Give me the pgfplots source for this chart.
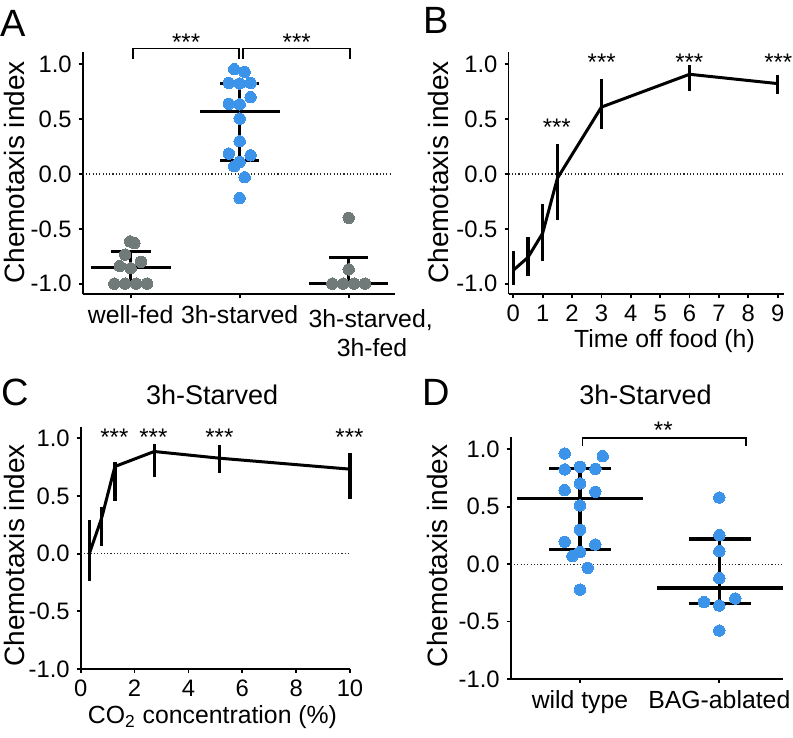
\documentclass[border=0pt]{standalone}
\usepackage{fontspec}
\setmainfont{Liberation Sans}
\usepackage{pgfplots}
\pgfplotsset{compat=1.18}
\definecolor{dotblue}{RGB}{60,148,234}
\definecolor{dotgrey}{RGB}{112,122,120}

\pgfplotsset{
  panel/.style={
    scale only axis,
    axis lines=left,
    axis line style={-, line width=0.9pt},
    tick style={black, line width=0.9pt},
    tick align=outside,
    major tick length=2pt,
    clip=false,
    ytick={-1,-0.5,0,0.5,1},
    /pgf/number format/assume math mode=true,
    yticklabel style={/pgf/number format/fixed, /pgf/number format/fixed zerofill, /pgf/number format/precision=1},
    tick label style={font=\fontsize{11.9}{14}\selectfont},
  },
  sumline/.style={black, line width=1.7pt, line cap=butt, forget plot},
  bracket/.style={black, line width=0.8pt, forget plot},
  zeroline/.style={black!85, line width=0.6pt, dash pattern=on 0.55pt off 1.1pt, forget plot},
  bluedots/.style={only marks, mark=*, mark size=2.85pt, mark options={fill=dotblue, draw=dotblue, line width=0pt}},
  greydots/.style={only marks, mark=*, mark size=2.85pt, mark options={fill=dotgrey, draw=dotgrey, line width=0pt}},
  meanline/.style={black, line width=1.5pt, line join=round,
    error bars/.cd, y dir=both, y explicit, error mark=none,
    error bar style={line width=1.7pt, black}},
}

\pgfplotstableread{
x y ep em
0 -0.878 0.178 0.137
0.5 -0.76 0.186 0.17
1 -0.54 0.264 0.253
1.5 -0.04 0.317 0.376
3 0.61 0.256 0.196
6 0.909 0.088 0.152
9 0.824 0.076 0.097
}\tableB

\pgfplotstableread{
x y ep em
0.32 0.0 0.292 0.234
0.78 0.31 0.09 0.243
1.27 0.755 0.035 0.298
2.73 0.885 0.066 0.222
5.15 0.827 0.113 0.13
10 0.732 0.139 0.26
}\tableC

\begin{document}
\begin{tikzpicture}
\path[use as bounding box] (0,0) rectangle (396.5pt,369pt);

% ---------------- Panel A ----------------
\begin{axis}[panel,
  at={(41.35pt,221.85pt)}, anchor=south west,
  width=156.15pt, height=121.3pt,
  xmin=-0.44, xmax=2.425, ymin=-1.097, ymax=1.115,
  xtick={0,1,2}, xticklabels={well-fed,3h-starved,{}},
  xticklabel style={font=\fontsize{12.4}{14}\selectfont},
]
\addplot[zeroline] coordinates {(-0.44,0) (2.395,0)};
\addplot[greydots] coordinates {(-0.005,-0.615) (0.035,-0.63) (-0.05,-0.735) (-0.10,-0.84) (0.095,-0.80) (0,-0.86) (-0.15,-1) (-0.05,-1) (0.05,-1) (0.15,-1)};
\addplot[bluedots] coordinates {(0.95,0.955) (1.046,0.93) (0.9,0.83) (1,0.825) (1.1,0.83) (1.1,0.70) (0.9,0.64) (1,0.635) (1,0.505) (1,0.298) (0.9,0.186) (1.1,0.17) (0.95,0.07) (1,0.11) (1.046,-0.03) (1,-0.22)};
\addplot[greydots] coordinates {(2,-0.40) (2,-0.87) (1.85,-1) (1.95,-1) (2.05,-1) (2.15,-1)};
% summaries
\addplot[sumline] coordinates {(-0.367,-0.85) (0.367,-0.85)};
\addplot[sumline] coordinates {(-0.183,-0.705) (0.183,-0.705)};
\addplot[sumline] coordinates {(-0.183,-1) (0.183,-1)};
\addplot[sumline] coordinates {(0,-1) (0,-0.705)};
\addplot[sumline] coordinates {(0.633,0.57) (1.367,0.57)};
\addplot[sumline] coordinates {(0.82,0.825) (1.18,0.825)};
\addplot[sumline] coordinates {(0.82,0.125) (1.18,0.125)};
\addplot[sumline] coordinates {(1,0.125) (1,0.825)};
\addplot[sumline] coordinates {(1.638,-1) (2.362,-1)};
\addplot[sumline] coordinates {(1.82,-0.76) (2.18,-0.76)};
\addplot[sumline] coordinates {(2,-1) (2,-0.76)};
% brackets
\addplot[bracket] coordinates {(0.024,1.051) (0.024,1.143) (0.996,1.143) (0.996,1.051)};
\addplot[bracket] coordinates {(1.033,1.051) (1.033,1.143) (2.012,1.143) (2.012,1.051)};
\node[anchor=base, font=\fontsize{12}{14}\selectfont, inner sep=0pt] at (axis cs:0.509,1.123) {***};
\node[anchor=base, font=\fontsize{12}{14}\selectfont, inner sep=0pt] at (axis cs:1.523,1.123) {***};
\end{axis}

% ---------------- Panel B ----------------
\begin{axis}[panel,
  at={(254.25pt,221.85pt)}, anchor=south west,
  width=137.75pt, height=121.3pt,
  xmin=-0.163, xmax=9.214, ymin=-1.097, ymax=1.115,
  xtick={0,1,...,9},
]
\addplot[zeroline] coordinates {(-0.163,0) (9.18,0)};
\addplot[meanline] table[x=x, y=y, y error plus=ep, y error minus=em] {\tableB};
\node[anchor=base, font=\fontsize{12}{14}\selectfont, inner sep=0pt] at (axis cs:1.48,0.348) {***};
\node[anchor=base, font=\fontsize{12}{14}\selectfont, inner sep=0pt] at (axis cs:3.01,0.94) {***};
\node[anchor=base, font=\fontsize{12}{14}\selectfont, inner sep=0pt] at (axis cs:5.99,0.94) {***};
\node[anchor=base, font=\fontsize{12}{14}\selectfont, inner sep=0pt] at (axis cs:9.02,0.94) {***};
\end{axis}

% ---------------- Panel C ----------------
\begin{axis}[panel,
  at={(40.35pt,34.5pt)}, anchor=south west,
  width=134.65pt, height=121.15pt,
  xmin=0, xmax=10, ymin=-1, ymax=1.1,
  xtick={0,2,...,10},
]
\addplot[zeroline] coordinates {(0,0) (10,0)};
\addplot[meanline] table[x=x, y=y, y error plus=ep, y error minus=em] {\tableC};
\node[anchor=base, font=\fontsize{12}{14}\selectfont, inner sep=0pt] at (axis cs:1.25,0.933) {***};
\node[anchor=base, font=\fontsize{12}{14}\selectfont, inner sep=0pt] at (axis cs:2.70,0.933) {***};
\node[anchor=base, font=\fontsize{12}{14}\selectfont, inner sep=0pt] at (axis cs:5.15,0.933) {***};
\node[anchor=base, font=\fontsize{12}{14}\selectfont, inner sep=0pt] at (axis cs:9.98,0.933) {***};
\end{axis}

% ---------------- Panel D ----------------
\begin{axis}[panel,
  at={(255.35pt,29.5pt)}, anchor=south west,
  width=136pt, height=121.15pt,
  xmin=-0.4975, xmax=1.455, ymin=-1, ymax=1.11,
  xtick={0,1}, xticklabels={wild type,BAG-ablated},
  xticklabel style={font=\fontsize{12.4}{14}\selectfont},
]
\addplot[zeroline] coordinates {(-0.4975,0) (1.455,0)};
\addplot[bluedots] coordinates {(-0.11,0.964) (0.163,0.94) (-0.11,0.825) (0,0.848) (0.11,0.83) (-0.11,0.645) (0,0.703) (0.11,0.63) (0,0.511) (0,0.30) (-0.11,0.195) (0.11,0.171) (-0.055,0.07) (0,0.105) (0.055,-0.032) (0,-0.221)};
\addplot[bluedots] coordinates {(1,0.58) (1,0.253) (1,0.113) (1,-0.122) (0.89,-0.331) (1.115,-0.299) (1,-0.36) (1,-0.578)};
\addplot[sumline] coordinates {(-0.454,0.572) (0.454,0.572)};
\addplot[sumline] coordinates {(-0.222,0.833) (0.225,0.833)};
\addplot[sumline] coordinates {(-0.222,0.128) (0.225,0.128)};
\addplot[sumline] coordinates {(0,0.128) (0,0.833)};
\addplot[sumline] coordinates {(0.55,-0.206) (1.46,-0.206)};
\addplot[sumline] coordinates {(0.785,0.218) (1.225,0.218)};
\addplot[sumline] coordinates {(0.785,-0.343) (1.225,-0.343)};
\addplot[sumline] coordinates {(1,-0.343) (1,0.218)};
\addplot[bracket] coordinates {(0.019,1.028) (0.019,1.101) (1.192,1.101) (1.192,1.028)};
\node[anchor=base, font=\fontsize{12}{14}\selectfont, inner sep=0pt] at (axis cs:0.598,1.097) {**};
\end{axis}

% ---------------- Free text ----------------
\node[font=\fontsize{19}{22}\selectfont, inner sep=0pt] at (6.65pt,357.35pt) {A};
\node[font=\fontsize{19}{22}\selectfont, inner sep=0pt] at (217.9pt,358.6pt) {B};
\node[font=\fontsize{19}{22}\selectfont, inner sep=0pt] at (7.5pt,172.75pt) {C};
\node[font=\fontsize{19}{22}\selectfont, inner sep=0pt] at (218.3pt,172.75pt) {D};

\node[rotate=90, anchor=base, inner sep=0pt, font=\fontsize{14}{16}\selectfont] at (12.5pt,282.75pt) {Chemotaxis index};
\node[rotate=90, anchor=base, inner sep=0pt, font=\fontsize{14}{16}\selectfont] at (224.15pt,282.75pt) {Chemotaxis index};
\node[rotate=90, anchor=base, inner sep=0pt, font=\fontsize{14}{16}\selectfont] at (12.5pt,91.25pt) {Chemotaxis index};
\node[rotate=90, anchor=base, inner sep=0pt, font=\fontsize{14}{16}\selectfont] at (223.65pt,91.1pt) {Chemotaxis index};

\node[anchor=base, inner sep=0pt, font=\fontsize{12.4}{14}\selectfont] at (332.25pt,195.15pt) {Time off food (h)};
\node[anchor=base, inner sep=0pt, font=\fontsize{12.4}{14}\selectfont] at (106.25pt,7.35pt) {CO\textsubscript{2} concentration (\%)};

\node[anchor=base, inner sep=0pt, font=\fontsize{13.5}{16}\selectfont] at (106.1pt,166.5pt) {3h-Starved};
\node[anchor=base, inner sep=0pt, font=\fontsize{13.5}{16}\selectfont] at (322.75pt,166.5pt) {3h-Starved};

\node[anchor=base, inner sep=0pt, font=\fontsize{12.4}{14}\selectfont] at (185.35pt,205pt) {3h-starved,};
\node[anchor=base, inner sep=0pt, font=\fontsize{12.4}{14}\selectfont] at (186pt,190.65pt) {3h-fed};
\end{tikzpicture}
\end{document}
